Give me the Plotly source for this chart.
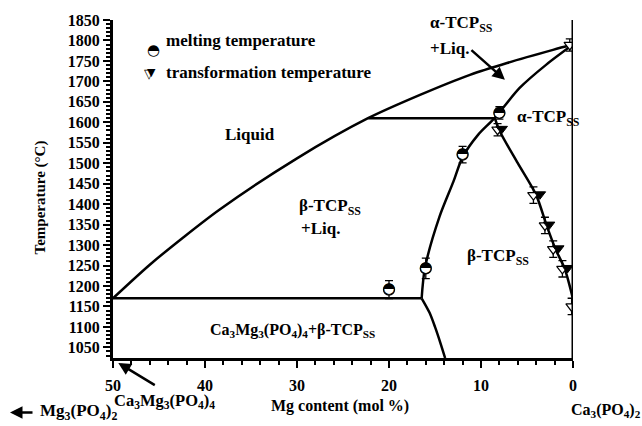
import plotly.graph_objects as go

# ---------------- data ----------------
# liquidus: Ca3Mg3(PO4)4 eutectic -> Ca3(PO4)2 melting point
liq_x = [50, 46.0, 42.4, 38.4, 30.0, 22.28, 16.63, 11.2, 7.17, 2.17, 0]
liq_T = [1170, 1252, 1318, 1387, 1512, 1610, 1667, 1716, 1745, 1777, 1790]
# solidus of beta-TCPss + liquid, continued to alpha-TCPss
sol_x = [16.45, 16.1, 14.5, 13.0, 12.0, 10.3, 8.5, 5.8, 2.9, 0]
sol_T = [1170, 1243, 1370, 1455, 1515, 1570, 1611, 1684, 1741, 1790]
# beta -> alpha transformation boundary
trans_x = [8.5, 8.0, 6.0, 4.0, 2.9, 1.9, 0.9, 0]
trans_T = [1611, 1580, 1500, 1422, 1350, 1290, 1242, 1168]
# solvus below the eutectic
low_x = [16.45, 15.6, 15.0, 14.4, 13.9]
low_T = [1170, 1135, 1100, 1060, 1024]
# horizontal invariant lines
eut_x = [50, 16.45]
eut_T = [1170, 1170]
per_x = [22.25, 8.5]
per_T = [1610, 1610]

# melting temperature measurements
melt_x = [20, 16, 12, 8]
melt_T = [1191, 1243, 1521, 1623]
melt_err = [22, 25, 20, 15]

# transformation temperature measurements (open / filled parts)
to_x = [8.2, 4.3, 3.05, 2.15, 1.15, 0.15, 0.35]
to_T = [1582, 1422, 1348, 1290, 1242, 1150, 1789]
to_err = [15, 20, 20, 20, 20, 20, 15]
tf_x = [7.75, 3.6, 2.6, 1.6, 0.6]
tf_T = [1584, 1424, 1350, 1292, 1244]

x_ticks = [50, 40, 30, 20, 10, 0]

SERIF = "Liberation Serif"
SYM = "DejaVu Sans"

fig = go.Figure()

for xs, ts, shape in [(liq_x, liq_T, "spline"), (sol_x, sol_T, "spline"),
                      (trans_x, trans_T, "spline"), (low_x, low_T, "spline"),
                      (eut_x, eut_T, "linear"), (per_x, per_T, "linear")]:
    fig.add_trace(go.Scatter(x=xs, y=ts, mode="lines",
                             line=dict(color="black", width=2.5, shape=shape, smoothing=0.8),
                             showlegend=False, hoverinfo="skip"))

# melting points: white circle + error bars, then half-filled glyph on top
fig.add_trace(go.Scatter(x=melt_x, y=melt_T, mode="markers",
                         marker=dict(symbol="circle", size=11, color="white",
                                     line=dict(color="black", width=1.2)),
                         error_y=dict(type="data", array=melt_err, color="black",
                                      thickness=1.3, width=4),
                         showlegend=False))
fig.add_trace(go.Scatter(x=melt_x, y=melt_T, mode="text", text=["\u25d3"] * len(melt_x),
                         textposition="middle center",
                         textfont=dict(family=SYM, size=15, color="black"),
                         showlegend=False))

# transformation points
fig.add_trace(go.Scatter(x=to_x, y=to_T, mode="markers",
                         marker=dict(symbol="triangle-down", size=10, color="white",
                                     line=dict(color="black", width=1.2)),
                         error_y=dict(type="data", array=to_err, color="black",
                                      thickness=1.3, width=4),
                         showlegend=False))
fig.add_trace(go.Scatter(x=tf_x, y=tf_T, mode="markers",
                         marker=dict(symbol="triangle-down", size=10, color="black",
                                     line=dict(color="black", width=1)),
                         showlegend=False))

# Ca3(PO4)2 boundary line at 0 mol %
fig.add_shape(type="line", xref="x", yref="paper", x0=0, x1=0, y0=0, y1=1,
              line=dict(color="black", width=3), layer="above")

anns = []


def lab(text, x, y, xanchor="center", xref="x", yref="y", size=17, **kw):
    anns.append(dict(text="<b>" + text + "</b>", x=x, y=y, xref=xref, yref=yref,
                     xanchor=xanchor, yanchor="middle", showarrow=False,
                     font=dict(family=SERIF, size=size, color="black"), **kw))


SS = "<sub>SS</sub>"
lab("Liquid", 35.1, 1571)
lab("\u03b2-TCP" + SS, 30.0, 1392, xanchor="left")
lab("+Liq.", 29.8, 1341, xanchor="left")
lab("\u03b1-TCP" + SS, 15.76, 1840, xanchor="left")
lab("+Liq.", 15.76, 1781, xanchor="left")
lab("\u03b1-TCP" + SS, 6.3, 1610, xanchor="left")
lab("\u03b2-TCP" + SS, 11.7, 1272, xanchor="left")
lab("Ca<sub>3</sub>Mg<sub>3</sub>(PO<sub>4</sub>)<sub>4</sub>+\u03b2-TCP" + SS, 30.5, 1090, size=16)

# legend
lab("melting temperature", 0.1115, 0.939, xanchor="left", xref="paper", yref="paper")
lab("transformation temperature", 0.1115, 0.845, xanchor="left", xref="paper", yref="paper")
anns.append(dict(text="\u25d3", x=0.0789, y=0.939, xref="paper", yref="paper", xshift=-4,
                 yshift=2, showarrow=False, font=dict(family=SYM, size=15, color="black")))
anns.append(dict(text="\u25bd", x=0.078, y=0.845, xref="paper", yref="paper", xshift=-7,
                 yshift=8, showarrow=False, font=dict(family=SYM, size=13, color="black")))
anns.append(dict(text="\u25bc", x=0.078, y=0.845, xref="paper", yref="paper", xshift=-3.5,
                 yshift=8.5, showarrow=False, font=dict(family=SYM, size=11, color="black")))

# bottom texts
lab("Ca<sub>3</sub>Mg<sub>3</sub>(PO<sub>4</sub>)<sub>4</sub>", 0.113, -0.127, size=16.5,
    xref="paper", yref="paper")
lab("Mg content (mol %)", 0.4935, -0.143, size=16, xref="paper", yref="paper")
lab("Ca<sub>3</sub>(PO<sub>4</sub>)<sub>2</sub>", 1.0717, -0.155, size=16, xref="paper", yref="paper")
lab("Mg<sub>3</sub>(PO<sub>4</sub>)<sub>2</sub>", -0.163, -0.160, xanchor="left", xref="paper", yref="paper")
lab("Temperature (\u00b0C)", -0.1587, 0.475, size=15, xref="paper", yref="paper", textangle=-90)

# arrows
arrow = dict(showarrow=True, arrowhead=2, arrowsize=1, arrowwidth=2.5, arrowcolor="black", text="")
anns.append(dict(x=7.4, y=1704, xref="x", yref="y", ax=-35, ay=-31, **arrow))
anns.append(dict(x=0.0115, y=-0.0147, xref="paper", yref="paper", ax=38, ay=23, **arrow))
anns.append(dict(x=-0.2239, y=-0.1609, xref="paper", yref="paper", ax=24, ay=0, **arrow))

tickfont = dict(family=SERIF, size=16, color="black", weight="bold")

fig.update_layout(
    width=642, height=426,
    margin=dict(l=113, r=69, t=18, b=68),
    paper_bgcolor="white", plot_bgcolor="white",
    showlegend=False,
    annotations=anns,
    xaxis=dict(range=[50, 0], tickvals=x_ticks, ticks="outside", ticklen=7, tickwidth=2,
               tickcolor="black", showline=True, linewidth=3, linecolor="black",
               showgrid=False, zeroline=False, tickfont=tickfont, ticklabelstandoff=4,
               minor=dict(dtick=2, tick0=0, ticks="outside", ticklen=4, tickwidth=2,
                          tickcolor="black", showgrid=False)),
    yaxis=dict(range=[1024, 1850], dtick=50, tick0=1050, ticks="outside", ticklen=7,
               tickwidth=2, tickcolor="black", showline=True, linewidth=3,
               linecolor="black", showgrid=False, zeroline=False, tickfont=tickfont,
               minor=dict(dtick=10, tick0=1050, ticks="outside", ticklen=4, tickwidth=1.5,
                          tickcolor="black", showgrid=False)),
)

fig.write_html("out.html")
